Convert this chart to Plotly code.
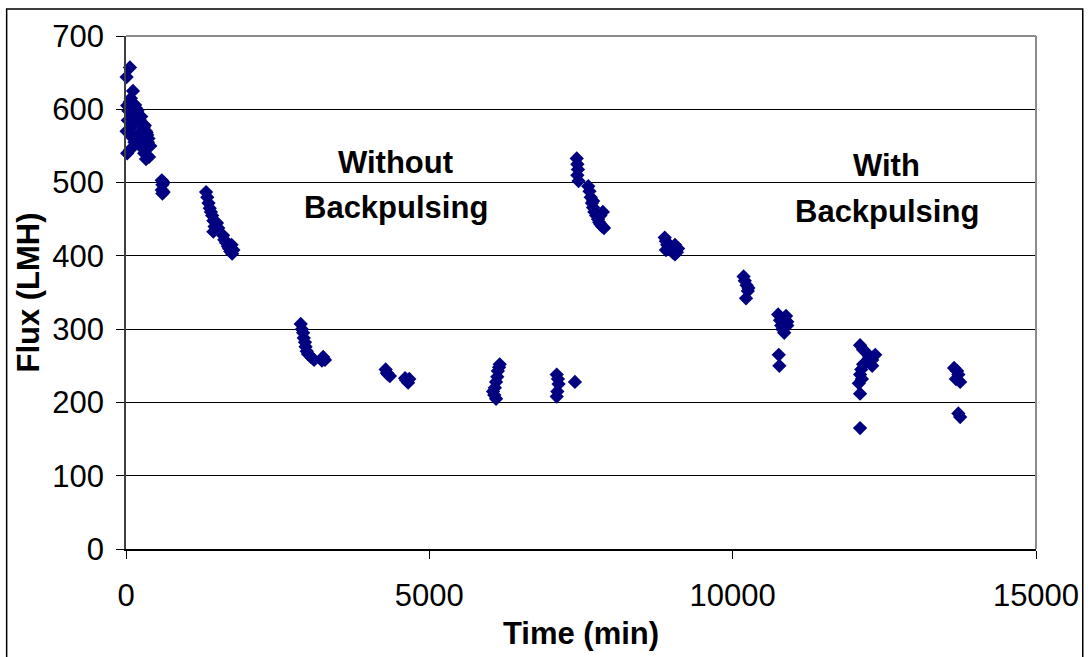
import plotly.graph_objects as go

# ---- data ----
time_min = [
    # start of run
    10, 65, 20, 115, 40, 60, 80, 100, 130, 150, 170, 190, 210, 230, 250, 270,
    290, 310, 330, 350, 370, 30, 50, 90, 120, 160, 200, 240, 280, 320, 360,
    400, 20, 70, 140, 260, 300, 380, 10, 110, 180, 340, 330,
    590, 600, 590, 600, 620, 620,
    1320, 1340, 1360, 1380, 1400, 1420, 1440, 1460, 1440, 1500, 1520, 1600,
    1620, 1650, 1680, 1700, 1720, 1750, 1770, 1740,
    2880, 2900, 2920, 2930, 2950, 2960, 2980, 3000, 3050, 3100, 3250, 3280, 3230,
    4280, 4300, 4320, 4350, 4600, 4620, 4650, 4670,
    6050, 6070, 6080, 6100, 6120, 6130, 6150, 6160, 6100,
    7100, 7120, 7130, 7110, 7100, 7400,
    # with backpulsing
    7430, 7440, 7450, 7440, 7460, 7620, 7640, 7660, 7680, 7700, 7720, 7750,
    7780, 7800, 7820, 7850, 7880, 7820, 7860, 7700,
    8880, 8900, 8920, 8950, 8980, 9000, 9020, 9050, 9080, 8900, 9050, 9100,
    10180, 10200, 10230, 10250, 10220, 10260,
    10750, 10780, 10800, 10820, 10850, 10880, 10900, 10760, 10770, 10850, 10900,
    12100, 12150, 12200, 12250, 12300, 12150, 12120, 12100, 12130, 12080, 12100,
    12100, 12350, 12300,
    13650, 13700, 13720, 13680, 13750, 13720, 13750,
]
flux_lmh = [
    644, 657, 605, 625, 598, 610, 615, 600, 595, 606, 601, 598, 592, 585, 590, 580,
    575, 578, 570, 565, 560, 585, 570, 575, 560, 555, 565, 550, 560, 545, 555,
    550, 540, 545, 555, 548, 540, 535, 570, 580, 590, 568, 532,
    503, 497, 490, 485, 500, 487,
    487, 480, 472, 465, 460, 455, 448, 440, 433, 445, 438, 428,
    422, 418, 413, 410, 406, 403, 408, 415,
    307, 300, 295, 288, 282, 276, 270, 266, 262, 258, 262, 258, 257,
    245, 240, 238, 236, 233, 230, 227, 232,
    215, 210, 220, 228, 235, 243, 248, 252, 205,
    238, 232, 225, 215, 208, 228,
    533, 525, 518, 510, 502, 495, 488, 480, 472, 466, 460, 455,
    450, 446, 443, 440, 438, 455, 460, 475,
    425, 420, 415, 412, 410, 407, 404, 402, 405, 408, 415, 410,
    372, 366, 360, 352, 342, 356,
    320, 312, 305, 300, 295, 318, 310, 265, 250, 315, 305,
    278, 272, 268, 262, 258, 252, 245, 238, 232, 226, 212,
    165, 265, 250,
    247, 243, 238, 232, 228, 185, 180,
]

x_ticks = [0, 5000, 10000, 15000]
y_ticks = [0, 100, 200, 300, 400, 500, 600, 700]

FONT = "Liberation Sans, Arial, sans-serif"
W, H = 1091, 657
L, R, T, B = 126, 50, 36, 107

fig = go.Figure()
fig.add_trace(go.Scatter(
    x=time_min, y=flux_lmh, mode="markers",
    marker=dict(symbol="diamond", size=11, color="#000080", line=dict(width=0)),
    cliponaxis=False, showlegend=False,
))

def px_to_paper_x(px):
    return (px - L) / (W - L - R)

def px_to_paper_y(py):
    return (H - B - py) / (H - T - B)

fig.update_layout(
    width=W, height=H,
    margin=dict(l=L, r=R, t=T, b=B),
    paper_bgcolor="white", plot_bgcolor="white",
    font=dict(family=FONT, size=31, color="black"),
    xaxis=dict(
        range=[0, 15000], tickvals=x_ticks, ticktext=[str(v) for v in x_ticks],
        showgrid=False, zeroline=False, showline=True, linecolor="black", linewidth=1.5,
        ticks="outside", ticklen=8, tickcolor="black", tickwidth=1,
        ticklabelstandoff=10,
        title=dict(text="<b>Time (min)</b>", font=dict(size=31), standoff=10),
    ),
    yaxis=dict(
        range=[0, 700], tickvals=y_ticks, ticktext=[str(v) for v in y_ticks],
        showgrid=True, gridcolor="black", gridwidth=1,
        zeroline=False, showline=True, linecolor="#404040", linewidth=1.5,
        ticks="outside", ticklen=8, tickcolor="black", tickwidth=1,
        ticklabelstandoff=6,
        title=dict(text="<b>Flux (LMH)</b>", font=dict(size=31), standoff=3),
    ),
    shapes=[
        # grey plot-area border (top and right)
        dict(type="line", xref="paper", yref="paper", x0=0, x1=1, y0=1, y1=1,
             line=dict(color="#8c8c8c", width=2)),
        dict(type="line", xref="paper", yref="paper", x0=1, x1=1, y0=0, y1=1,
             line=dict(color="#8c8c8c", width=2)),
        # outer chart border
        dict(type="rect", xref="paper", yref="paper",
             x0=px_to_paper_x(6), x1=px_to_paper_x(1088),
             y0=px_to_paper_y(665), y1=px_to_paper_y(9),
             line=dict(color="black", width=1.5), fillcolor="rgba(0,0,0,0)", layer="below"),
    ],
    annotations=[
        dict(text="<b>Without</b>", xref="paper", yref="paper",
             x=px_to_paper_x(397), y=px_to_paper_y(163), showarrow=False,
             xanchor="center", yanchor="middle", font=dict(size=31)),
        dict(text="<b>Backpulsing</b>", xref="paper", yref="paper",
             x=px_to_paper_x(397), y=px_to_paper_y(208), showarrow=False,
             xanchor="center", yanchor="middle", font=dict(size=31)),
        dict(text="<b>With</b>", xref="paper", yref="paper",
             x=px_to_paper_x(891), y=px_to_paper_y(166), showarrow=False,
             xanchor="center", yanchor="middle", font=dict(size=31)),
        dict(text="<b>Backpulsing</b>", xref="paper", yref="paper",
             x=px_to_paper_x(891), y=px_to_paper_y(212), showarrow=False,
             xanchor="center", yanchor="middle", font=dict(size=31)),
    ],
)

fig.write_html("out.html")
